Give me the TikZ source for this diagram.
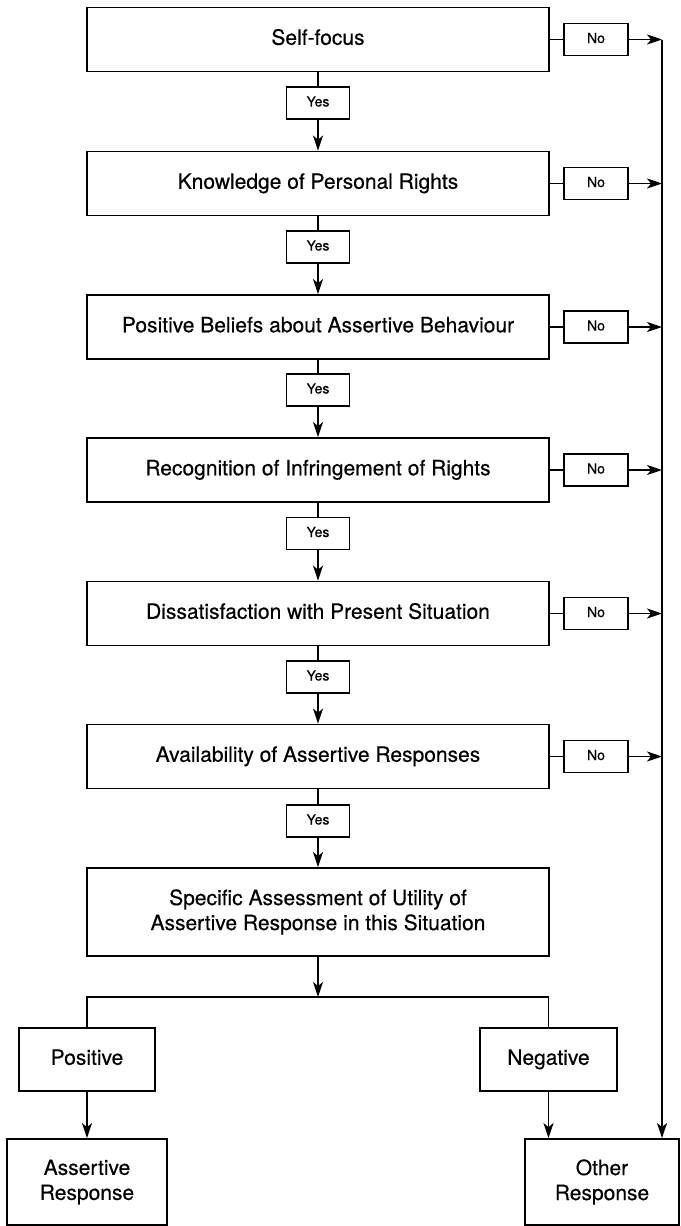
\documentclass[tikz,border=0pt]{standalone}
\usepackage{fontspec}
\setmainfont{TeX Gyre Heros}[FakeBold=0.4]
\usetikzlibrary{arrows.meta}
\begin{document}
\begin{tikzpicture}[x=1pt,y=-1pt,
  box/.style={draw, line width=1.8pt, rectangle, inner sep=0pt, align=center,
    font=\fontsize{21}{25}\selectfont},
  oneline/.style={text height=15pt, text depth=4.5pt},
  mainbox/.style={box, oneline, minimum width=462pt, minimum height=64pt},
  tagbox/.style={draw, line width=1.5pt, rectangle, inner sep=0pt,
    text height=10pt, text depth=3pt,
    minimum width=63pt, minimum height=32pt, font=\fontsize{14}{16}\selectfont},
  link/.style={line width=1.8pt},
  flow/.style={line width=1.8pt, -{Stealth[length=15pt,width=10pt,inset=4pt]}}]
\useasboundingbox (0,0) rectangle (680,1226);

% decision chain
\node[mainbox] (s1) at (318,39.5) {Self-focus};
\node[mainbox] (s2) at (318,183.5) {Knowledge of Personal Rights};
\node[mainbox] (s3) at (318,327) {Positive Beliefs about Assertive Behaviour};
\node[mainbox] (s4) at (318,470) {Recognition of Infringement of Rights};
\node[mainbox] (s5) at (318,613.5) {Dissatisfaction with Present Situation};
\node[mainbox] (s6) at (318,756.5) {Availability of Assertive Responses};
\node[box, minimum width=462pt, minimum height=88pt] (s7) at (318,912)
  {Specific Assessment of Utility of\\Assertive Response in this Situation};

% yes labels between steps
\foreach \i/\y in {1/103,2/247,3/390,4/533.5,5/677,6/821} {
  \node[tagbox] (y\i) at (318,\y) {Yes};
}
% no labels beside steps
\foreach \i in {1,...,6} {
  \node[tagbox, minimum width=64pt] (n\i) at (596,0 |- s\i) {No};
}

% outcome boxes
\node[box, oneline, minimum width=136pt, minimum height=63pt] (pos) at (87,1059.5) {Positive};
\node[box, oneline, minimum width=137pt, minimum height=63pt] (neg) at (548.5,1059.5) {Negative};
\node[box, minimum width=160pt, minimum height=86pt] (ar) at (87,1182) {Assertive\\Response};
\node[box, minimum width=154pt, minimum height=86pt] (or) at (602,1182) {Other\\Response};

% yes path
\foreach \i [evaluate=\i as \j using int(\i+1)] in {1,...,6} {
  \draw[link] (s\i.south) -- (y\i.north);
  \draw[flow] (y\i.south) -- (s\j.north);
}

% no path to the collecting line
\coordinate (rail) at (662,0);
\foreach \i in {1,...,6} {
  \draw[link] (s\i.east) -- (n\i.west);
  \draw[flow] (n\i.east) -- (rail |- n\i);
}
\draw[flow] (rail |- n1) -- (rail |- or.north);

% branching after the assessment
\coordinate (fork) at (318,997);
\draw[flow] (s7.south) -- (fork);
\draw[link] (pos.north) |- (fork) -| (neg.north);
\draw[flow] (pos.south) -- (ar.north);
\draw[flow] (neg.south) -- (neg.south |- or.north);
\end{tikzpicture}
\end{document}
